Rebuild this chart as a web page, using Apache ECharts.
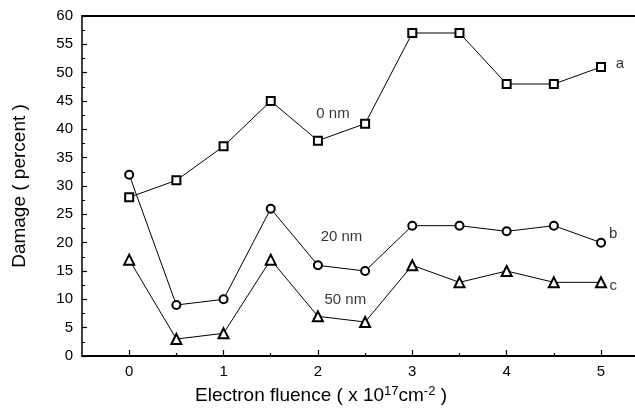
<!DOCTYPE html>
<html>
<head>
<meta charset="utf-8">
<script src="https://cdn.jsdelivr.net/npm/echarts@6/dist/echarts.min.js"></script>
<style>
  html, body {margin: 0; padding: 0; background: #fff;}
  #main {width: 635px; height: 408px;}
</style>
</head>
<body>
<div id="main"></div>
<script>
// fluence (x 10^17 cm^-2)
var fluence = [0, 0.5, 1, 1.5, 2, 2.5, 3, 3.5, 4, 4.5, 5];
// damage (percent)
var damage0nm = [28, 31, 37, 45, 38, 41, 57, 57, 48, 48, 51];
var damage20nm = [32, 9, 10, 26, 16, 15, 23, 23, 22, 23, 20];
var damage50nm = [17, 3, 4, 17, 7, 6, 16, 13, 15, 13, 13];
var majorTicks = [0, 1, 2, 3, 4, 5];
var minorTicks = [0.5, 1.5, 2.5, 3.5, 4.5];
// text notes [x, y, text]
var notes = [
    [2.16, 42.7, '0 nm'],
    [2.25, 21, '20 nm'],
    [2.29, 9.9, '50 nm'],
    [5.2, 51.5, 'a'],
    [5.13, 21.6, 'b'],
    [5.13, 12.3, 'c']
];

function pairs(ys) {
    var out = [];
    for (var i = 0; i < fluence.length; i++) {
        out.push([fluence[i], ys[i]]);
    }
    return out;
}

var font = 'Liberation Sans, Arial, sans-serif';
var xMin = -0.5, xMax = 5.36;
var myChart = echarts.init(document.getElementById('main'));

function lineSeries(name, symbol, size, ys) {
    return {
        name: name,
        type: 'line',
        data: pairs(ys),
        symbol: symbol,
        symbolSize: size,
        showAllSymbol: true,
        lineStyle: {color: '#000', width: 1},
        itemStyle: {color: '#000', borderColor: '#000', borderWidth: 1.1},
        animation: false,
        z: 3
    };
}

myChart.setOption({
    animation: false,
    title: {
        text: 'Electron fluence ( x 10{sup|17}cm{sup|-2} )',
        left: 190,
        top: 380,
        textStyle: {
            fontFamily: font,
            fontSize: 19,
            fontWeight: 'normal',
            color: '#000',
            rich: {
                sup: {fontFamily: font, fontSize: 13, verticalAlign: 'top', padding: [0, 0, 9, 0], color: '#000'}
            }
        }
    },
    grid: {
        left: 82,
        top: 16,
        bottom: 52,
        right: 0,
        show: false,
        containLabel: false
    },
    xAxis: [
        {
            type: 'value',
            min: xMin,
            max: xMax,
            axisLine: {onZero: false, lineStyle: {color: '#000', width: 2}},
            axisTick: {inside: true, length: 6, customValues: majorTicks, lineStyle: {color: '#000', width: 1.2}},
            axisLabel: {customValues: majorTicks, margin: 8, fontFamily: font, fontSize: 15, color: '#000'},
            splitLine: {show: false}
        },
        {
            type: 'value',
            min: xMin,
            max: xMax,
            position: 'bottom',
            axisLine: {show: false, onZero: false},
            axisTick: {inside: true, length: 3, customValues: minorTicks, lineStyle: {color: '#000', width: 1.2}},
            axisLabel: {show: false},
            splitLine: {show: false}
        },
        {
            type: 'value',
            min: xMin,
            max: xMax,
            position: 'top',
            axisLine: {onZero: false, lineStyle: {color: '#000', width: 2}},
            axisTick: {show: false},
            axisLabel: {show: false},
            splitLine: {show: false}
        }
    ],
    yAxis: {
        type: 'value',
        min: 0,
        max: 60,
        interval: 5,
        name: 'Damage ( percent )',
        nameLocation: 'middle',
        nameGap: 53,
        nameTextStyle: {fontFamily: font, fontSize: 19, color: '#000'},
        axisLine: {onZero: false, lineStyle: {color: '#000', width: 1.5}},
        axisTick: {inside: true, length: 5, lineStyle: {color: '#000', width: 1.2}},
        minorTick: {show: true, splitNumber: 2, length: 3, lineStyle: {color: '#000', width: 1}},
        axisLabel: {margin: 9, fontFamily: font, fontSize: 15, color: '#000'},
        splitLine: {show: false}
    },
    series: [
        lineSeries('0 nm', 'emptyRect', 8, damage0nm),
        lineSeries('20 nm', 'emptyCircle', 8, damage20nm),
        lineSeries('50 nm', 'emptyTriangle', 10, damage50nm),
        {
            type: 'scatter',
            data: notes,
            symbolSize: 0,
            silent: true,
            label: {
                show: true,
                position: 'inside',
                formatter: function (p) { return p.value[2]; },
                fontFamily: font,
                fontSize: 15,
                color: '#000'
            },
            z: 4
        }
    ]
});
</script>
</body>
</html>
